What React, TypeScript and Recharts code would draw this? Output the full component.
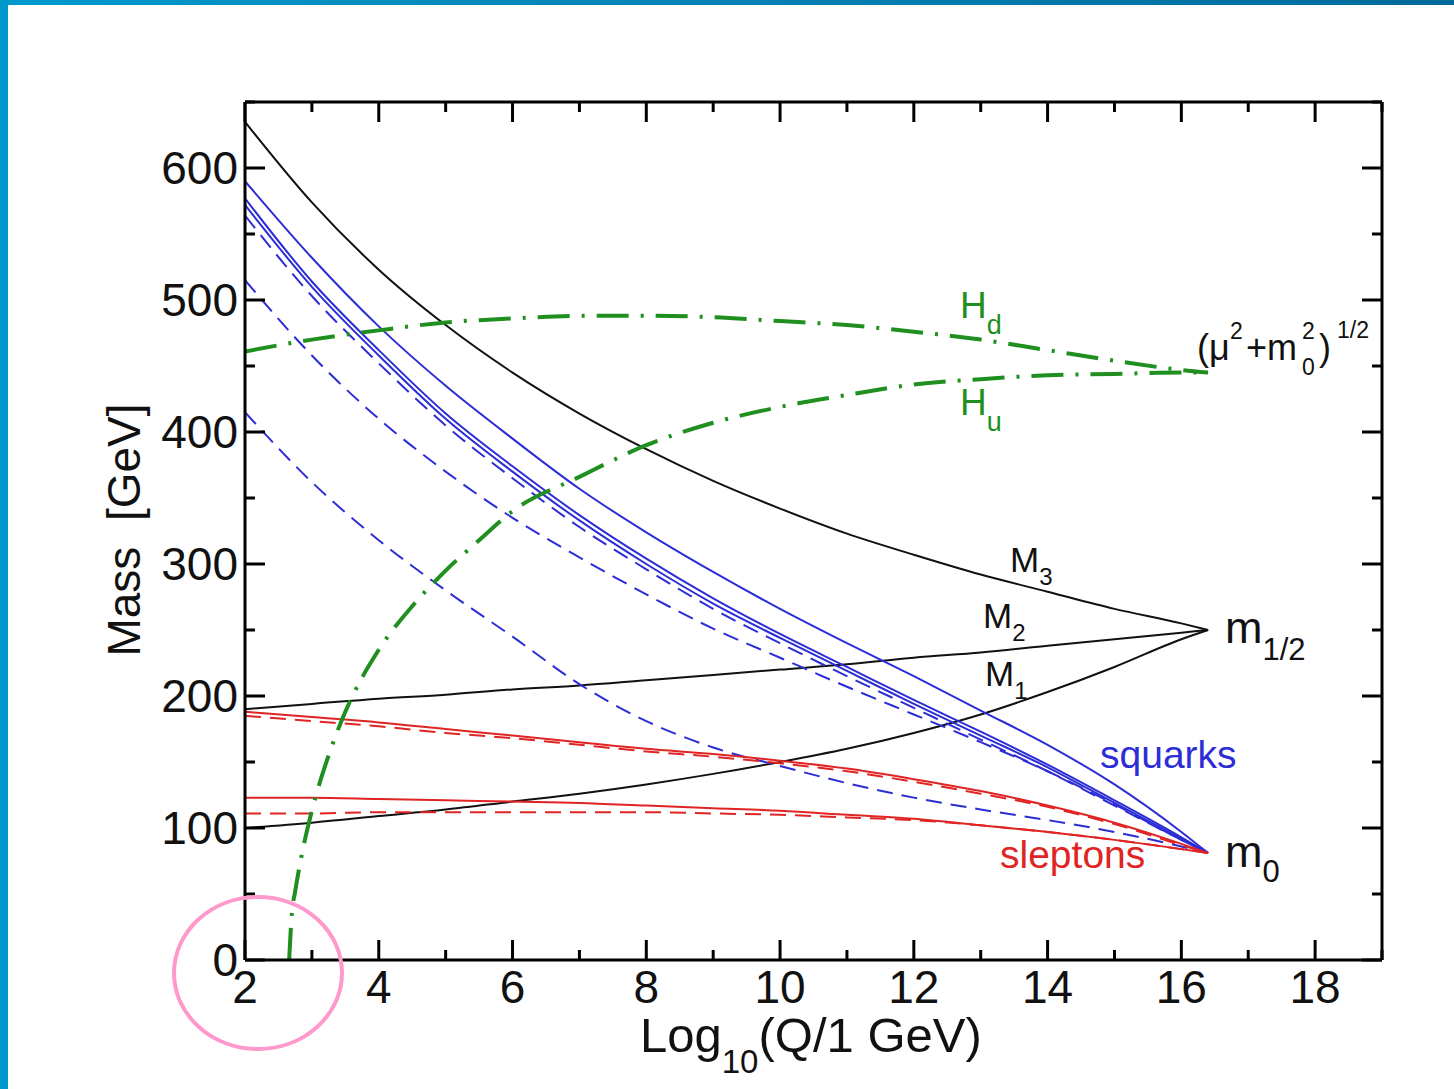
import { LineChart, Line, XAxis, YAxis } from "recharts";

// renormalisation scale, log10(Q / 1 GeV)
const q = [2, 3, 4, 5, 6, 7, 8, 9, 10, 11, 12, 13, 14, 15, 16, 16.4];

// gaugino masses
const m3 = [635, 574, 523, 481, 445, 414, 387, 363, 342, 323, 307, 292, 279, 266, 255, 250];
const m2 = [190, 194, 198, 201, 205, 208, 212, 216, 220, 224, 229, 233, 238, 243, 248, 250];
const m1 = [100, 104, 109, 114, 120, 126, 133, 141, 150, 160, 172, 186, 203, 222, 243, 250];

// squarks (solid / dashed)
const sqA = [590, 532, 480, 435, 395, 357, 324, 294, 266, 240, 215, 189, 163, 133, 97, 81];
const sqB = [577, 514, 462, 414, 374, 337, 304, 274, 247, 222, 197, 173, 148, 121, 93, 81];
const sqC = [572, 510, 458, 410, 370, 333, 300, 270, 244, 219, 194, 170, 146, 119, 92, 81];
const sqD = [564, 503, 452, 405, 365, 328, 296, 266, 240, 215, 191, 167, 143, 117, 91, 81];
const sqE = [515, 458, 410, 370, 335, 305, 277, 251, 229, 207, 186, 165, 143, 118, 91, 81];
const sqF = [415, 362, 318, 280, 245, 209, 181, 161, 147, 134, 123, 114, 106, 97, 86, 81];

// sleptons (solid / dashed)
const slA = [188, 184, 180, 175, 170, 165, 160, 156, 151, 145, 137, 128, 117, 104, 88, 81];
const slB = [185, 181, 177, 172, 168, 163, 158, 154, 149, 143, 135, 126, 116, 103, 87, 81];
const slC = [123, 123, 122, 121, 120, 119, 117, 115, 113, 110, 107, 102, 97, 91, 84, 81];
const slD = [111, 111, 112, 112, 112, 112, 112, 111, 110, 108, 106, 102, 97, 91, 84, 81];

// Higgs mass parameters
const hd = [461, 470, 477, 483, 486, 488, 488, 487, 484, 481, 476, 470, 462, 454, 447, 445];
const huQ = [2.66, 2.7, 2.75, 2.85, 3, 3.25, 3.5, 4, 4.5, 5, 5.5, 6, 7, 8, 9, 10, 11, 12, 13, 14, 15, 16, 16.4];
const hu = [0, 35, 52, 80, 113, 155, 188, 235, 268, 295, 318, 340, 366, 390, 407, 419, 428, 436, 440, 443, 444, 445, 445];

const xTicks = [2, 3, 4, 5, 6, 7, 8, 9, 10, 11, 12, 13, 14, 15, 16, 17, 18, 19];
const yTicks = [0, 50, 100, 150, 200, 250, 300, 350, 400, 450, 500, 550, 600, 650];

const BLACK = "#111";
const BLUE = "#2d2dd6";
const RED = "#e02424";
const GREEN = "#1f8f1f";
const FONT = "'Liberation Sans', Arial, Helvetica, sans-serif";
const PLOT_H = 858;

const pts = (ys: number[], xs: number[] = q) => xs.map((x, i) => ({ x, y: ys[i] }));

const series = [
  { id: "m3", ys: m3, color: BLACK, w: 2 },
  { id: "m2", ys: m2, color: BLACK, w: 2 },
  { id: "m1", ys: m1, color: BLACK, w: 2 },
  { id: "sqA", ys: sqA, color: BLUE, w: 2 },
  { id: "sqB", ys: sqB, color: BLUE, w: 2 },
  { id: "sqC", ys: sqC, color: BLUE, w: 2 },
  { id: "sqD", ys: sqD, color: BLUE, w: 2, dash: "16 9" },
  { id: "sqE", ys: sqE, color: BLUE, w: 2, dash: "16 9" },
  { id: "sqF", ys: sqF, color: BLUE, w: 2, dash: "16 9" },
  { id: "slA", ys: slA, color: RED, w: 2 },
  { id: "slB", ys: slB, color: RED, w: 2, dash: "16 9" },
  { id: "slC", ys: slC, color: RED, w: 2 },
  { id: "slD", ys: slD, color: RED, w: 2, dash: "16 9" },
  { id: "hd", ys: hd, color: GREEN, w: 4, dash: "32 12 3 12" },
  { id: "hu", ys: hu, xs: huQ, color: GREEN, w: 4, dash: "32 12 3 12" },
];

const frame = { stroke: "#000", strokeWidth: 3 };

// bottom axis tick: label + inward tick, plus the matching tick on the top frame
const BottomTick = (p: any) => {
  const v = p.payload.value;
  const len = v % 2 === 0 ? 20 : 10;
  const top = p.y - PLOT_H;
  return (
    <g>
      <line x1={p.x} y1={p.y} x2={p.x} y2={p.y - len} {...frame} />
      <line x1={p.x} y1={top} x2={p.x} y2={top + len} {...frame} />
      {v % 2 === 0 && v <= 18 && (
        <text x={p.x} y={p.y + 43} textAnchor="middle" fontSize={46} fontFamily={FONT} fill="#111">
          {v}
        </text>
      )}
    </g>
  );
};

const LeftTick = (p: any) => {
  const v = p.payload.value;
  const major = v % 100 === 0;
  return (
    <g>
      <line x1={p.x} y1={p.y} x2={p.x + (major ? 20 : 10)} y2={p.y} {...frame} />
      {major && (
        <text x={p.x - 7} y={p.y + 16} textAnchor="end" fontSize={46} fontFamily={FONT} fill="#111">
          {v}
        </text>
      )}
    </g>
  );
};

const RightTick = (p: any) => {
  const major = p.payload.value % 100 === 0;
  return <line x1={p.x} y1={p.y} x2={p.x - (major ? 20 : 10)} y2={p.y} {...frame} />;
};

const Sub = ({ x, y, main, sub, size, color, subSize, dy }: any) => (
  <text x={x} y={y} fontSize={size} fontFamily={FONT} fill={color}>
    {main}
    <tspan dy={dy ?? size * 0.38} fontSize={subSize ?? size * 0.72}>
      {sub}
    </tspan>
  </text>
);

const axisCommon = {
  type: "number" as const,
  interval: 0 as const,
  tickSize: 0,
  tickMargin: 0,
  axisLine: frame,
  tickLine: false,
  allowDataOverflow: true,
};

export default function App() {
  return (
    <div style={{ position: "absolute", left: 0, top: 0, width: 1454, height: 1089, background: "#fff" }}>
      <LineChart width={1454} height={1089} margin={{ top: 101, right: 71, bottom: 69, left: 145 }}>
        <XAxis
          {...axisCommon}
          dataKey="x"
          domain={[2, 19]}
          ticks={xTicks}
          height={60}
          tick={(p: any) => <BottomTick {...p} />}
        />
        <XAxis
          {...axisCommon}
          xAxisId="top"
          orientation="top"
          domain={[2, 19]}
          ticks={xTicks}
          height={1}
          tick={false}
        />
        <YAxis
          {...axisCommon}
          domain={[0, 650]}
          ticks={yTicks}
          width={100}
          tick={(p: any) => <LeftTick {...p} />}
        />
        <YAxis
          {...axisCommon}
          yAxisId="right"
          orientation="right"
          domain={[0, 650]}
          ticks={yTicks}
          width={1}
          tick={(p: any) => <RightTick {...p} />}
        />
        {series.map((s) => (
          <Line
            key={s.id}
            data={pts(s.ys, s.xs)}
            dataKey="y"
            type="monotone"
            stroke={s.color}
            strokeWidth={s.w}
            strokeDasharray={s.dash}
            dot={false}
            activeDot={false}
            isAnimationActive={false}
          />
        ))}
      </LineChart>

      <svg
        width={1454}
        height={1089}
        style={{ position: "absolute", left: 0, top: 0, pointerEvents: "none" }}
      >
        <defs>
          <linearGradient id="bar" x1="0" x2="1" y1="0" y2="0">
            <stop offset="0" stopColor="#0099cc" />
            <stop offset="1" stopColor="#006a9c" />
          </linearGradient>
        </defs>
        <rect x={0} y={0} width={1454} height={5} fill="url(#bar)" />
        <rect x={0} y={0} width={8} height={1089} fill="#0099cc" />

        <ellipse cx={258} cy={973} rx={84} ry={76} fill="none" stroke="#ff99cc" strokeWidth={4} />

        <text
          transform="translate(140,530) rotate(-90)"
          textAnchor="middle"
          fontSize={46}
          fontFamily={FONT}
          fill="#111"
          style={{ whiteSpace: "pre" }}
        >
          {"Mass  [GeV]"}
        </text>
        <text x={640} y={1052} fontSize={49} fontFamily={FONT} fill="#111">
          Log
          <tspan dy={21} fontSize={33}>10</tspan>
          <tspan dy={-21}>(Q/1 GeV)</tspan>
        </text>

        <Sub x={960} y={318} main="H" sub="d" size={37} color={GREEN} dy={16} subSize={27} />
        <Sub x={960} y={415} main="H" sub="u" size={37} color={GREEN} dy={16} subSize={27} />

        <g fontFamily={FONT} fill="#111">
          <text x={1197} y={360} fontSize={36}>(μ</text>
          <text x={1230} y={339} fontSize={23}>2</text>
          <text x={1246} y={360} fontSize={36}>+m</text>
          <text x={1302} y={339} fontSize={23}>2</text>
          <text x={1302} y={375} fontSize={23}>0</text>
          <text x={1319} y={360} fontSize={36}>)</text>
          <text x={1337} y={338} fontSize={23}>1/2</text>
        </g>

        <Sub x={1010} y={572} main="M" sub="3" size={35} color="#111" dy={13} subSize={24} />
        <Sub x={983} y={628} main="M" sub="2" size={35} color="#111" dy={13} subSize={24} />
        <Sub x={985} y={686} main="M" sub="1" size={35} color="#111" dy={13} subSize={24} />

        <Sub x={1225} y={643} main="m" sub="1/2" size={45} subSize={31} dy={17} color="#111" />
        <Sub x={1225} y={867} main="m" sub="0" size={45} subSize={31} dy={15} color="#111" />

        <text x={1100} y={768} fontSize={39} fontFamily={FONT} fill={BLUE}>
          squarks
        </text>
        <text x={1000} y={868} fontSize={39} fontFamily={FONT} fill={RED}>
          sleptons
        </text>
      </svg>
    </div>
  );
}
